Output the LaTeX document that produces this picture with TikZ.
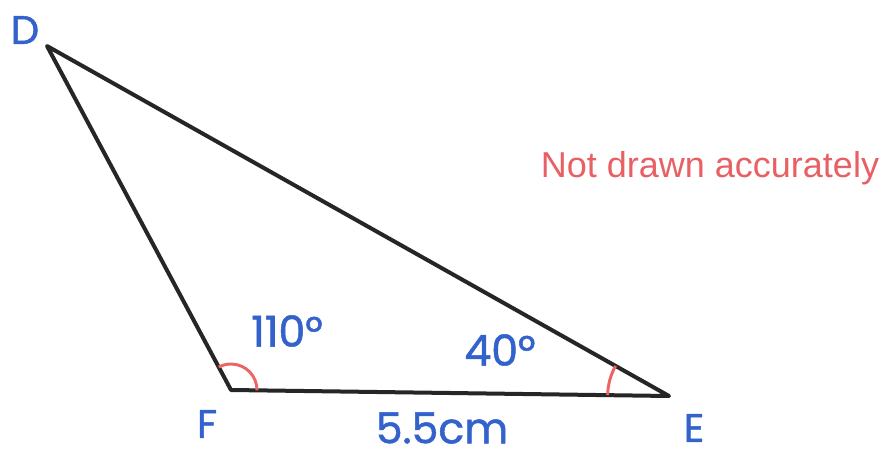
\documentclass[tikz,border=0pt]{standalone}
\usepackage{fontspec}
\setmainfont{Liberation Sans}
\newfontfamily\handfont[FakeBold=1.2]{Poppins}
\usetikzlibrary{angles}
\definecolor{lblblue}{RGB}{52,98,204}
\definecolor{notered}{RGB}{232,96,100}
\definecolor{arcred}{RGB}{236,100,100}
\tikzset{
  side/.style={line width=3pt, line join=round, line cap=round, black!85},
  anglearc/.style={draw=arcred, line width=2.2pt},
  lbl/.style={text=lblblue, font=\handfont\fontsize{32}{32}\selectfont, inner sep=0pt},
  vlbl/.style={text=lblblue, font=\handfont\fontsize{30}{30}\selectfont, inner sep=0pt},
}
\begin{document}
\begin{tikzpicture}[x=0.75pt,y=-0.75pt]
\useasboundingbox (0,0) rectangle (889,460);
\fill[white] (0,0) rectangle (889,460);
\coordinate (D) at (47,46);
\coordinate (F) at (231,390);
\coordinate (E) at (669,396);
\draw[side] (D) -- (F) -- (E) -- cycle;
\pic[anglearc, angle radius=19.5pt] {angle = E--F--D};
\pic[anglearc, angle radius=46pt] {angle = D--E--F};
\node[vlbl] (lD) at (25,30) {D};
\node[vlbl] (lF) at (207,424) {F};
\node[vlbl] (lE) at (694,428) {E};
\node[lbl] (a110) at (287,331) {110°};
\node[lbl] (a40) at (500,350) {40°};
\node[lbl] (len) at (442,428) {5.5cm};
\node[text=notered, font=\fontsize{27}{27}\selectfont, inner sep=0pt] (note) at (710,168) {Not drawn accurately};
\end{tikzpicture}
\end{document}
